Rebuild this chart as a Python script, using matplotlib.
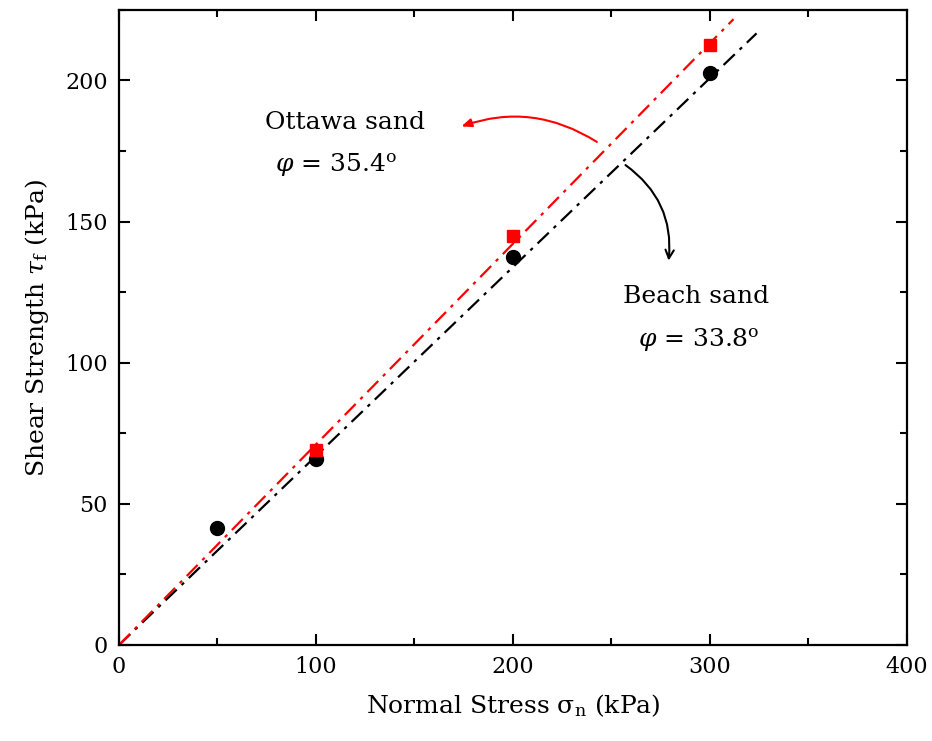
import matplotlib
matplotlib.use("Agg")
import matplotlib.pyplot as plt
import numpy as np
from matplotlib.ticker import MultipleLocator

plt.rcParams['font.family'] = ['DejaVu Serif']
plt.rcParams['mathtext.fontset'] = 'dejavuserif'

# Direct shear results
beach_stress = [50, 100, 200, 300]
beach_strength = [41.5, 66, 137.5, 202.5]
ottawa_stress = [100, 200, 300]
ottawa_strength = [69, 145, 212.5]

# Friction angles (degrees) of the Mohr-Coulomb envelopes
phi_beach = 33.8
phi_ottawa = 35.4
beach_line_end = 323.7
ottawa_line_end = 312

fig = plt.figure(figsize=(9.32, 7.41), dpi=100)
ax = fig.add_axes([0.1277, 0.1296, 0.8453, 0.857])

xb = np.array([0, beach_line_end])
xo = np.array([0, ottawa_line_end])
ax.plot(xb, np.tan(np.radians(phi_beach)) * xb, color='black', lw=1.6,
        dashes=(7, 3, 1.5, 3), zorder=2)
ax.plot(xo, np.tan(np.radians(phi_ottawa)) * xo, color='red', lw=1.6,
        dashes=(7, 3, 1.5, 3), zorder=2)

ax.plot(beach_stress, beach_strength, 'o', color='black', ms=10, zorder=3)
ax.plot(ottawa_stress, ottawa_strength, 's', color='red', ms=8.5, mec='red', zorder=3)

ax.set_xlim(0, 400)
ax.set_ylim(0, 225)
ax.xaxis.set_major_locator(MultipleLocator(100))
ax.xaxis.set_minor_locator(MultipleLocator(50))
ax.yaxis.set_major_locator(MultipleLocator(50))
ax.yaxis.set_minor_locator(MultipleLocator(25))
ax.tick_params(which='both', direction='in', top=True, right=True, width=1.5)
ax.tick_params(which='major', length=8, labelsize=16, pad=8)
ax.tick_params(which='minor', length=5)
for s in ax.spines.values():
    s.set_linewidth(1.6)

ax.set_xlabel(r'Normal Stress $\mathrm{\sigma_n}$ (kPa)', fontsize=18, labelpad=10)
ax.set_ylabel(r'Shear Strength $\tau_\mathrm{f}$ (kPa)', fontsize=18, labelpad=10)

ax.text(74, 185, 'Ottawa sand', fontsize=18, va='center', ha='left')
ax.text(79, 170, r'$\varphi$ = 35.4$^\mathrm{o}$', fontsize=18, va='center', ha='left')
ax.text(292.9, 123.5, 'Beach sand', fontsize=18, va='center', ha='center')
ax.text(294, 108, r'$\varphi$ = 33.8$^\mathrm{o}$', fontsize=18, va='center', ha='center')

ax.annotate('', xy=(172.5, 183.4), xytext=(243.8, 177.7),
            arrowprops=dict(arrowstyle='-|>,head_length=0.6,head_width=0.25',
                            color='red', lw=1.5,
                            connectionstyle='arc3,rad=0.25'))
ax.annotate('', xy=(278.9, 135.2), xytext=(256, 170.6),
            arrowprops=dict(arrowstyle='->,head_length=0.6,head_width=0.3',
                            color='black', lw=1.5,
                            connectionstyle='arc3,rad=-0.3'))

fig.savefig('out.png', dpi=100)
